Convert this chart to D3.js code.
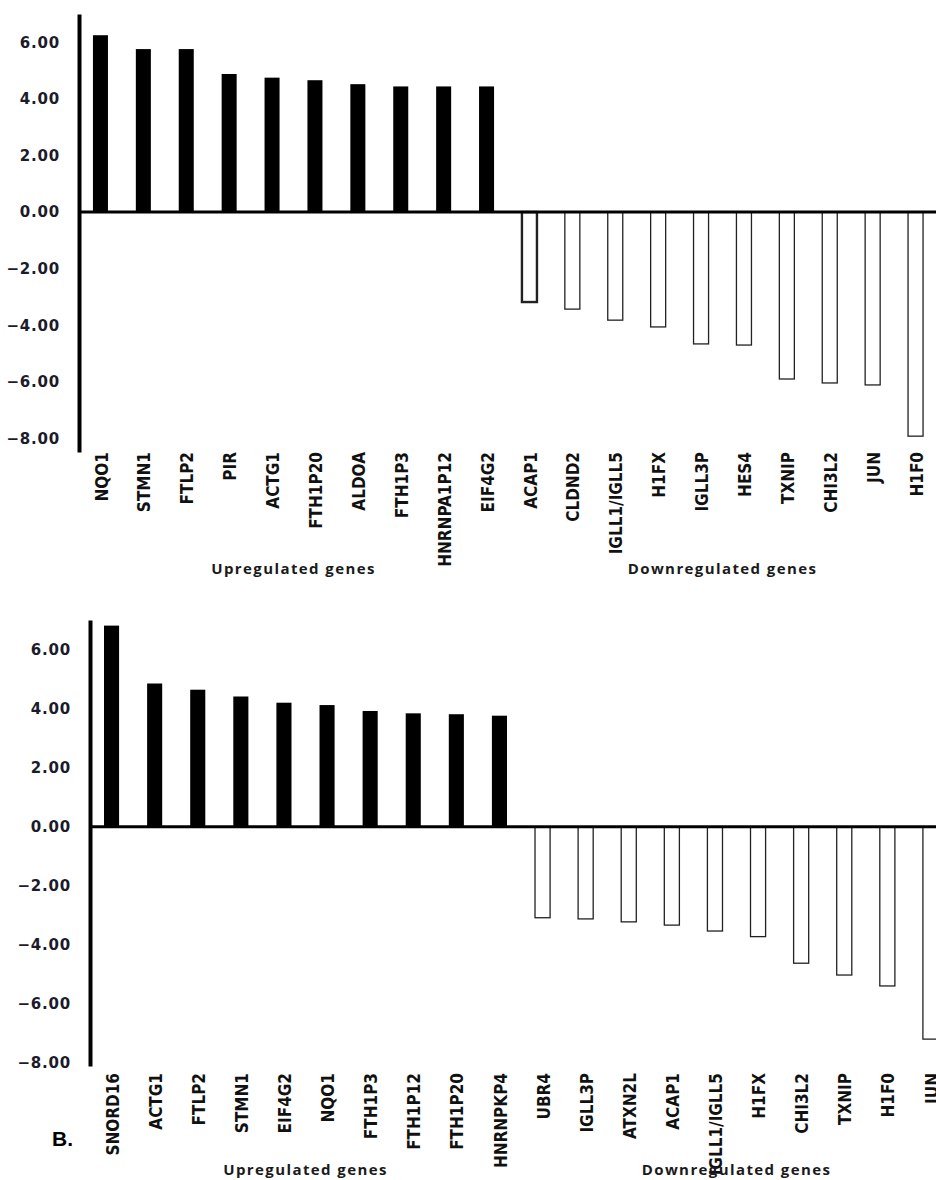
<!DOCTYPE html>
<html>
<head>
<meta charset="utf-8">
<script src="https://cdn.jsdelivr.net/npm/d3@7"></script>
<style>
  body { margin: 0; background: #fff; }
  svg { display: block; }
  .tick text { font-family: "DejaVu Sans", Verdana, sans-serif; font-weight: bold; font-size: 15px; letter-spacing: 0.8px; fill: #1b1b2a; }
  .gene { font-family: "Liberation Sans Narrow", "DejaVu Sans Condensed", "Arial Narrow", sans-serif; font-stretch: condensed; font-weight: bold; font-size: 17px; fill: #111; }
  .grp { font-family: "Open Sans", "DejaVu Sans", sans-serif; font-weight: 700; font-size: 15px; letter-spacing: 1.4px; fill: #1a1a1a; }
</style>
</head>
<body>
<svg width="936" height="1180"></svg>
<script>
var WIDTH = 936;
var HEIGHT = 1180;

// panel A
var genesA = ["NQO1", "STMN1", "FTLP2", "PIR", "ACTG1", "FTH1P20", "ALDOA", "FTH1P3", "HNRNPA1P12", "EIF4G2",
              "ACAP1", "CLDND2", "IGLL1/IGLL5", "H1FX", "IGLL3P", "HES4", "TXNIP", "CHI3L2", "JUN", "H1F0"];
var valuesA = [6.25, 5.76, 5.76, 4.88, 4.75, 4.66, 4.52, 4.44, 4.44, 4.44,
               -3.18, -3.43, -3.82, -4.06, -4.66, -4.70, -5.90, -6.04, -6.11, -7.92];

// panel B
var genesB = ["SNORD16", "ACTG1", "FTLP2", "STMN1", "EIF4G2", "NQO1", "FTH1P3", "FTH1P12", "FTH1P20", "HNRNPKP4",
              "UBR4", "IGLL3P", "ATXN2L", "ACAP1", "IGLL1/IGLL5", "H1FX", "CHI3L2", "TXNIP", "H1F0", "JUN"];
var valuesB = [6.81, 4.85, 4.64, 4.41, 4.20, 4.12, 3.92, 3.84, 3.81, 3.76,
               -3.08, -3.12, -3.22, -3.33, -3.53, -3.72, -4.62, -5.02, -5.39, -7.19];

var tickValues = [-8, -6, -4, -2, 0, 2, 4, 6];
var groupTitles = ["Upregulated genes", "Downregulated genes"];

var svg = d3.select("svg")
    .attr("width", WIDTH)
    .attr("height", HEIGHT);

function drawPanel(genes, values, p) {
    var g = svg.append("g");

    var x = d3.scaleBand()
        .domain(genes)
        .range([p.x0, p.x1])
        .paddingInner(0.65)
        .paddingOuter(0.325);

    var y = d3.scaleLinear()
        .domain([p.yMin, p.yMax])
        .range([p.bottom, p.top]);

    var data = genes.map(function(d, i) { return {name: d, value: values[i]}; });

    // y axis
    var yAxis = d3.axisLeft(y)
        .tickValues(tickValues)
        .tickFormat(d3.format(".2f"))
        .tickSize(0)
        .tickPadding(19);

    var ax = g.append("g")
        .attr("transform", "translate(" + p.x0 + ",0)")
        .call(yAxis);
    ax.select(".domain").attr("stroke", "#000").attr("stroke-width", 4);

    // bars
    g.selectAll("rect.bar")
        .data(data)
        .enter()
        .append("rect")
        .attr("class", "bar")
        .attr("x", function(d) { return x(d.name); })
        .attr("y", function(d) { return d.value > 0 ? y(d.value) : y(0); })
        .attr("width", x.bandwidth())
        .attr("height", function(d) { return Math.abs(y(d.value) - y(0)); })
        .attr("fill", function(d) { return d.value > 0 ? "#000" : "#fff"; })
        .attr("stroke", function(d) { return d.value > 0 ? "none" : "#222"; })
        .attr("stroke-width", function(d) { return d.name === p.bold ? 2.4 : 1.3; });

    // zero line
    g.append("line")
        .attr("x1", p.x0)
        .attr("x2", p.x1)
        .attr("y1", y(0))
        .attr("y2", y(0))
        .attr("stroke", "#000")
        .attr("stroke-width", 3);

    // gene labels
    g.selectAll("text.gene")
        .data(data)
        .enter()
        .append("text")
        .attr("class", "gene")
        .attr("text-anchor", "end")
        .attr("dy", "0.36em")
        .attr("transform", function(d) {
            return "translate(" + (x(d.name) + x.bandwidth() / 2 + 1) + "," + p.labelTop + ") rotate(-90)";
        })
        .text(function(d) { return d.name; });

    // group titles
    var up = genes.slice(0, 10), down = genes.slice(10);
    [up, down].forEach(function(grp, i) {
        var cx = (x(grp[0]) + x(grp[grp.length - 1]) + x.bandwidth()) / 2;
        g.append("text")
            .attr("class", "grp")
            .attr("text-anchor", "middle")
            .attr("x", cx)
            .attr("y", p.titleY)
            .text(groupTitles[i]);
    });
}

drawPanel(genesA, valuesA, {
    x0: 79, x1: 937, top: 14, bottom: 452, yMin: -8.48, yMax: 7.0,
    labelTop: 452, titleY: 574, bold: "ACAP1"
});

drawPanel(genesB, valuesB, {
    x0: 90, x1: 952, top: 620, bottom: 1066, yMin: -8.1, yMax: 7.0,
    labelTop: 1073, titleY: 1175, bold: null
});

// panel letter
svg.append("text")
    .attr("x", 52)
    .attr("y", 1146)
    .attr("font-family", "'Liberation Sans', Arial, sans-serif")
    .attr("font-weight", "bold")
    .attr("font-size", 21)
    .attr("fill", "#000")
    .text("B.");
</script>
</body>
</html>
